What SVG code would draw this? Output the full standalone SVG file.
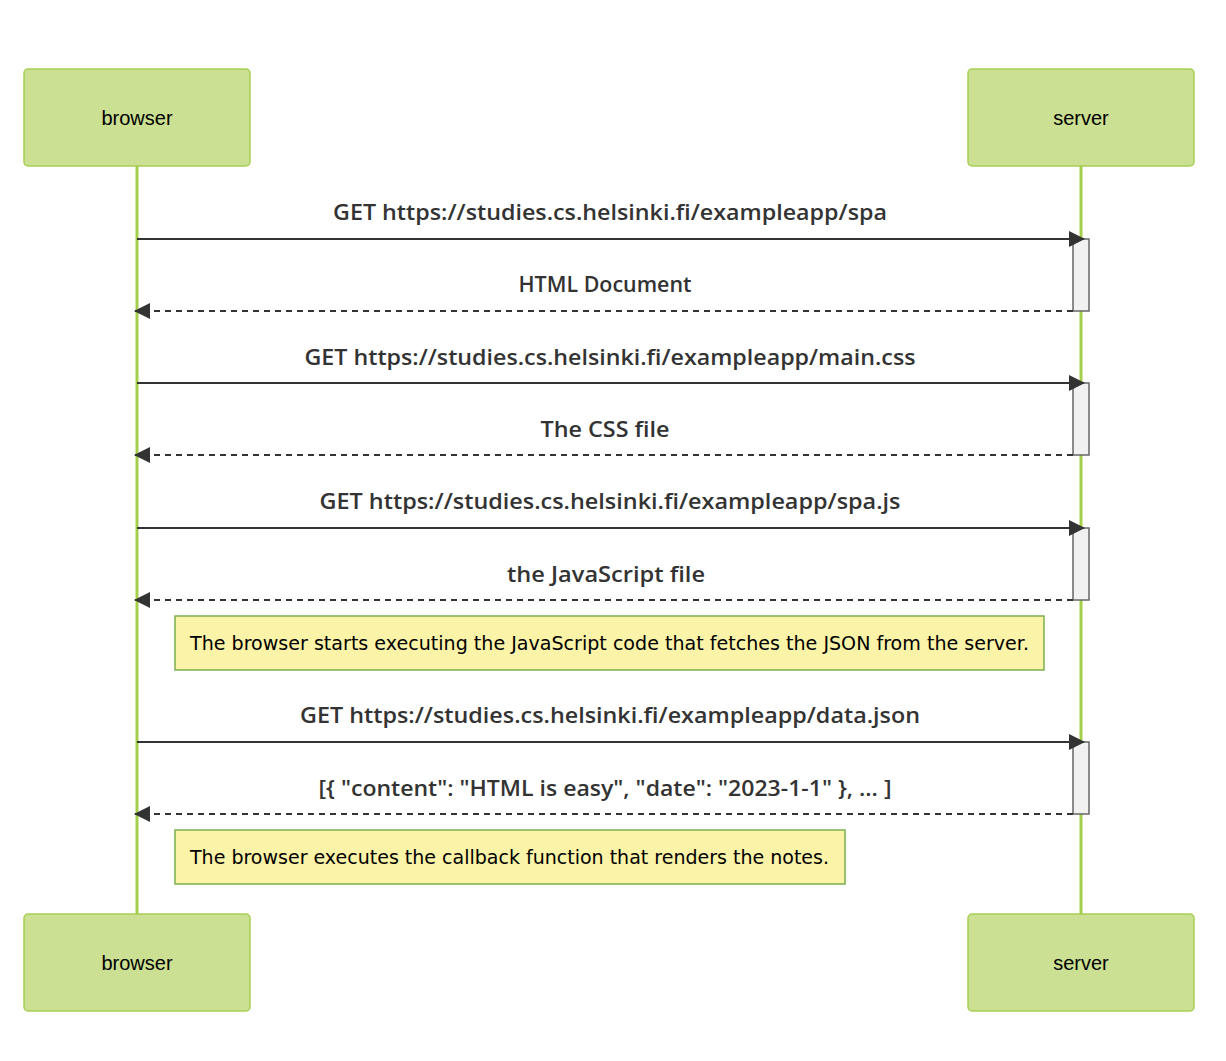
<svg xmlns="http://www.w3.org/2000/svg" width="1226" height="1061" viewBox="0 0 1226 1061">
<style>
.actor{fill:#cbe092;stroke:#a8cf52;stroke-width:1.5}
.atext{font-family:"Liberation Sans",Arial,sans-serif;font-size:20px;fill:#000;text-anchor:middle;dominant-baseline:central}
.life{stroke:#a3cf4a;stroke-width:3}
.msg{stroke:#333;stroke-width:2;fill:none}
.dash{stroke-dasharray:6 5}
.mtext{font-family:"Open Sans","DejaVu Sans",sans-serif;font-weight:600;font-size:22px;fill:#333;text-anchor:middle}
.act{fill:#f1f1f1;stroke:#666;stroke-width:1.5}
.note{fill:#fbf3a8;stroke:#7bae4f;stroke-width:1.5}
.ntext{font-family:"DejaVu Sans",Verdana,sans-serif;font-size:19px;fill:#000}
</style>
<defs>
<marker id="arr" viewBox="0 0 16 16" refX="15" refY="8" markerWidth="16" markerHeight="16" markerUnits="userSpaceOnUse" orient="auto">
<path d="M0,0 L16,8 L0,16 z" fill="#333"/>
</marker>
</defs>
<rect width="1226" height="1061" fill="#fff"/>
<g id="lifelines">
<line class="life" x1="137" y1="166" x2="137" y2="914"/>
<line class="life" x1="1081" y1="166" x2="1081" y2="914"/>
</g>
<g id="actor-browser-top"><rect class="actor" x="24" y="69" width="226" height="97" rx="4"/><text class="atext" x="137" y="118">browser</text></g>
<g id="actor-server-top"><rect class="actor" x="968" y="69" width="226" height="97" rx="4"/><text class="atext" x="1081" y="118">server</text></g>
<g id="actor-browser-bottom"><rect class="actor" x="24" y="914" width="226" height="97" rx="4"/><text class="atext" x="137" y="963">browser</text></g>
<g id="actor-server-bottom"><rect class="actor" x="968" y="914" width="226" height="97" rx="4"/><text class="atext" x="1081" y="963">server</text></g>
<g id="activations">
<rect class="act" x="1073" y="239" width="16" height="72"/>
<rect class="act" x="1073" y="383" width="16" height="72"/>
<rect class="act" x="1073" y="528" width="16" height="72"/>
<rect class="act" x="1073" y="742" width="16" height="72"/>
</g>
<g id="connectors">
<line class="msg" x1="137" y1="239" x2="1084" y2="239" marker-end="url(#arr)"/>
<line class="msg dash" x1="1073" y1="311" x2="135" y2="311" marker-end="url(#arr)"/>
<line class="msg" x1="137" y1="383" x2="1084" y2="383" marker-end="url(#arr)"/>
<line class="msg dash" x1="1073" y1="455" x2="135" y2="455" marker-end="url(#arr)"/>
<line class="msg" x1="137" y1="528" x2="1084" y2="528" marker-end="url(#arr)"/>
<line class="msg dash" x1="1073" y1="600" x2="135" y2="600" marker-end="url(#arr)"/>
<line class="msg" x1="137" y1="742" x2="1084" y2="742" marker-end="url(#arr)"/>
<line class="msg dash" x1="1073" y1="814" x2="135" y2="814" marker-end="url(#arr)"/>
</g>
<g id="labels">
<text class="mtext" x="610" y="220" textLength="554" lengthAdjust="spacingAndGlyphs">GET https://studies.cs.helsinki.fi/exampleapp/spa</text>
<text class="mtext" x="605" y="292" textLength="173" lengthAdjust="spacingAndGlyphs">HTML Document</text>
<text class="mtext" x="610" y="365" textLength="611" lengthAdjust="spacingAndGlyphs">GET https://studies.cs.helsinki.fi/exampleapp/main.css</text>
<text class="mtext" x="605" y="437" textLength="129" lengthAdjust="spacingAndGlyphs">The CSS file</text>
<text class="mtext" x="610" y="509" textLength="581" lengthAdjust="spacingAndGlyphs">GET https://studies.cs.helsinki.fi/exampleapp/spa.js</text>
<text class="mtext" x="606" y="582" textLength="198" lengthAdjust="spacingAndGlyphs">the JavaScript file</text>
<text class="mtext" x="610" y="723" textLength="620" lengthAdjust="spacingAndGlyphs">GET https://studies.cs.helsinki.fi/exampleapp/data.json</text>
<text class="mtext" x="605" y="796" textLength="573" lengthAdjust="spacingAndGlyphs">[{ "content": "HTML is easy", "date": "2023-1-1" }, ... ]</text>
</g>
<g id="note1"><rect class="note" x="175" y="616" width="869" height="54"/><text class="ntext" x="190" y="650" textLength="839" lengthAdjust="spacingAndGlyphs">The browser starts executing the JavaScript code that fetches the JSON from the server.</text></g>
<g id="note2"><rect class="note" x="175" y="830" width="670" height="54"/><text class="ntext" x="190" y="864" textLength="639" lengthAdjust="spacingAndGlyphs">The browser executes the callback function that renders the notes.</text></g>
</svg>
